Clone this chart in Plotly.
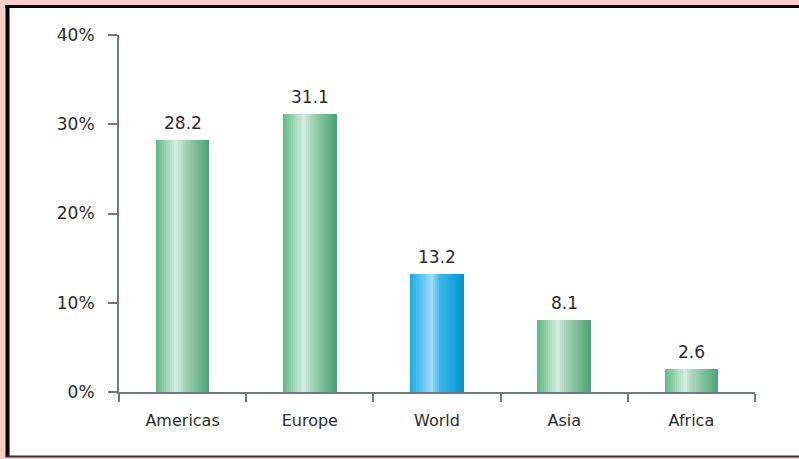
import plotly.graph_objects as go

categories = ["Americas", "Europe", "World", "Asia", "Africa"]
values = [28.2, 31.1, 13.2, 8.1, 2.6]
highlight = ["World"]
y_tick_vals = [0, 10, 20, 30, 40]
y_tick_text = ["0%", "10%", "20%", "30%", "40%"]

GREEN_STOPS = [(0.0, (92, 186, 134)), (0.38, (214, 238, 222)), (0.55, (160, 210, 180)), (1.0, (74, 163, 116))]
BLUE_STOPS = [(0.0, (22, 170, 228)), (0.40, (165, 220, 246)), (0.55, (60, 185, 235)), (1.0, (0, 150, 204))]


def interp(stops, t):
    for (t0, c0), (t1, c1) in zip(stops[:-1], stops[1:]):
        if t0 <= t <= t1:
            f = (t - t0) / (t1 - t0) if t1 > t0 else 0
            c = [round(a + (b - a) * f) for a, b in zip(c0, c1)]
            return "rgb(%d,%d,%d)" % tuple(c)
    c = stops[-1][1]
    return "rgb(%d,%d,%d)" % c


W = 636.0
H = 357.0
PL, PT = 119.0, 35.0


def px_x(p):
    return (p - PL) / W


def px_y(p):
    return (PT + H - p) / H


fig = go.Figure()

BAR_W = 0.42
N = 26
step = BAR_W / N
for i in range(N):
    t = (i + 0.5) / N
    cols = [interp(BLUE_STOPS if c in highlight else GREEN_STOPS, t) for c in categories]
    fig.add_trace(go.Bar(
        x=categories, y=values,
        offset=-BAR_W / 2 + i * step,
        width=step * (1.6 if i < N - 1 else 1.0),
        marker=dict(color=cols, line=dict(width=0)),
        hoverinfo="skip", showlegend=False,
    ))

for c, v in zip(categories, values):
    fig.add_annotation(x=c, y=v, text=f"{v:.1f}", showarrow=False,
                       yanchor="bottom", yshift=5,
                       font=dict(family="DejaVu Sans", size=17, color="#2b2b2b"))

AX = "#6d7a84"
fig.update_layout(
    width=799, height=459,
    margin=dict(l=PL, r=799 - 755, t=PT, b=459 - 392, pad=0),
    paper_bgcolor="#ffcccc",
    plot_bgcolor="rgba(0,0,0,0)",
    barmode="overlay",
    bargap=0,
    font=dict(family="DejaVu Sans", color="#2b2b2b"),
    xaxis=dict(
        type="category", range=[-0.5, 4.5],
        showline=True, linecolor=AX, linewidth=2,
        ticks="outside", tickson="boundaries", ticklen=8, tickwidth=2, tickcolor=AX,
        showgrid=False, zeroline=False,
        tickfont=dict(size=16, color="#2b2b2b"),
        ticklabelstandoff=13,
    ),
    yaxis=dict(
        range=[0, 40],
        tickvals=y_tick_vals, ticktext=y_tick_text,
        showline=True, linecolor=AX, linewidth=2,
        ticks="outside", ticklen=9, tickwidth=2, tickcolor=AX,
        showgrid=False, zeroline=False,
        tickfont=dict(size=17, color="#2b2b2b"),
        ticklabelstandoff=10,
    ),
    shapes=[
        dict(type="rect", xref="paper", yref="paper", layer="below",
             x0=px_x(7), x1=px_x(820), y0=px_y(457), y1=px_y(6),
             fillcolor="white", line=dict(width=0)),
        dict(type="line", xref="paper", yref="paper", layer="above",
             x0=px_x(7.5), x1=px_x(7.5), y0=px_y(457), y1=px_y(5),
             line=dict(color="black", width=4)),
        dict(type="line", xref="paper", yref="paper", layer="above",
             x0=px_x(5.5), x1=px_x(820), y0=px_y(6.5), y1=px_y(6.5),
             line=dict(color="black", width=3)),
        dict(type="line", xref="paper", yref="paper", layer="above",
             x0=px_x(5.5), x1=px_x(820), y0=px_y(456.5), y1=px_y(456.5),
             line=dict(color="#333333", width=2)),
    ],
)

fig.write_html("out.html")
